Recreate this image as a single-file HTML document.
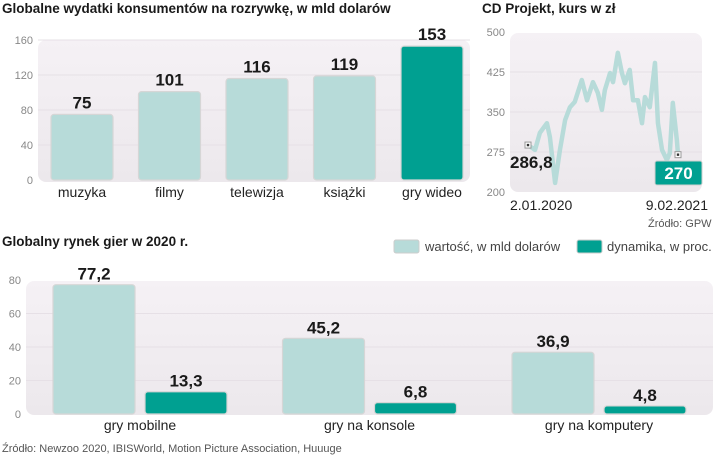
<!DOCTYPE html>
<html><head><meta charset="utf-8">
<style>
body{margin:0;background:#fff;width:720px;height:455px;overflow:hidden}
svg{display:block}
text{font-family:"Liberation Sans Narrow","Liberation Sans",sans-serif}
.t{font-weight:bold;font-size:13.5px;fill:#1a1a1a}
.tick{font-size:11px;fill:#888}
.cat{font-size:14px;fill:#222}
.val{font-weight:bold;font-size:17px;fill:#1a1a1a}
.src{font-size:11px;fill:#555}
</style></head><body>
<svg id="s" width="720" height="455">
<defs>
<linearGradient id="bg" x1="0" y1="0" x2="0" y2="1"><stop offset="0" stop-color="#f5f1f5"/><stop offset="1" stop-color="#ece8ec"/></linearGradient>
</defs>
<text class="t" x="2" y="13">Globalne wydatki konsumentów na rozrywkę, w  mld dolarów</text>
<text class="t" x="482" y="13">CD Projekt, kurs w zł</text>
<text class="t" x="2" y="246">Globalny rynek gier w 2020 r.</text>
<g>
<rect x="394" y="240" width="25" height="13" rx="2" fill="#b7dbd9" stroke="#ccc"/>
<text x="425" y="251" font-size="13" fill="#444">wartość, w mld dolarów</text>
<rect x="577" y="240" width="25" height="13" rx="2" fill="#00a091" stroke="#ccc"/>
<text x="607" y="251" font-size="13" fill="#444">dynamika, w proc.</text>
</g>
<text class="src" x="648" y="227">Źródło: GPW</text>
<text class="src" x="2" y="452">Źródło: Newzoo 2020, IBISWorld, Motion Picture Association, Huuuge</text>
<g id="c1"></g><g id="c2"></g><g id="c3"></g>
</svg>
<script>
const spendCats=["muzyka","filmy","telewizja","książki","gry wideo"];
const spendVals=[75,101,116,119,153];
const spendLabels=["75","101","116","119","153"];
const spendTicks=[0,40,80,120,160];
const gameCats=["gry mobilne","gry na konsole","gry na komputery"];
const gameValue=[77.2,45.2,36.9];
const gameDyn=[13.3,6.8,4.8];
const gameTicks=[0,20,40,60,80];
const cdpDays=[0,19,32,51,59,73,86,100,113,126,145,159,175,188,199,207,221,229,242,253,261,274,283,296,307,315,328,342,350,361,374,382,390,401,404];
const cdpPrice=[288,279,311,329,303,217,279,335,359,369,410,372,406,386,354,391,423,406,461,423,404,429,372,372,329,378,359,442,329,279,260,273,367,297,270];
const cdpTicks=[200,275,350,425,500];
const NS="http://www.w3.org/2000/svg";
function mk(p,t,a,txt){const e=document.createElementNS(NS,t);for(const k in a)e.setAttribute(k,a[k]);if(txt!==undefined)e.textContent=txt;p.appendChild(e);return e;}
const fmt=v=>String(v).replace('.',',');
const c1=document.getElementById('c1');
const y1=v=>180-v*140/160;
let e=mk(c1,'rect',{x:38,y:40,width:432,height:142,rx:8,fill:'url(#bg)'});

spendTicks.forEach(t=>{
 if(t>0){e=mk(c1,'line',{x1:38,x2:470,y1:y1(t),y2:y1(t),stroke:'#e6e0e6'});}
 e=mk(c1,'text',{x:33,y:y1(t)+4,'text-anchor':'end',class:'tick'},t);
 
});
spendVals.forEach((v,i)=>{
 const cx=82+i*87.5;
 e=mk(c1,'rect',{x:cx-31,y:y1(v),width:62,height:180-y1(v),rx:3,fill:i==4?'#00a091':'#b7dbd9',stroke:'#d6d6d6','stroke-width':1.2});
 
 e=mk(c1,'text',{x:cx,y:y1(v)-6,'text-anchor':'middle',class:'val'},spendLabels[i]);
 
 e=mk(c1,'text',{x:cx,y:197,'text-anchor':'middle',class:'cat'},spendCats[i]);
 
});
const c2=document.getElementById('c2');
const y2=v=>192-(v-200)*160/300;
const x2=d=>528+d*150/404;
e=mk(c2,'rect',{x:510,y:33,width:192,height:159,rx:8,fill:'url(#bg)'});

cdpTicks.forEach(t=>{
 if(t>200&&t<500){e=mk(c2,'line',{x1:510,x2:702,y1:y2(t),y2:y2(t),stroke:'#e6e0e6'});}
 e=mk(c2,'text',{x:505,y:y2(t)+4,'text-anchor':'end',class:'tick'},t);
 
});
e=mk(c2,'polyline',{points:cdpPrice.map((v,i)=>x2(cdpDays[i])+','+y2(v)).join(' '),fill:'none',stroke:'#b7dbd9','stroke-width':4.5,'stroke-linejoin':'round'});

const f0=cdpPrice[0],fl=cdpPrice[cdpPrice.length-1],dl=cdpDays[cdpDays.length-1];
e=mk(c2,'rect',{x:x2(0)-3,y:y2(f0)-3,width:6,height:6,fill:'#fff',stroke:'#999'});
mk(c2,'rect',{x:x2(0)-1.2,y:y2(f0)-1.2,width:2.4,height:2.4,fill:'#333'});
e=mk(c2,'rect',{x:x2(dl)-3,y:y2(fl)-3,width:6,height:6,fill:'#fff',stroke:'#999'});
mk(c2,'rect',{x:x2(dl)-1.2,y:y2(fl)-1.2,width:2.4,height:2.4,fill:'#333'});
e=mk(c2,'text',{x:510,y:168,class:'val'},'286,8');
e=mk(c2,'rect',{x:655,y:161,width:47,height:24,rx:2,fill:'#00a091',stroke:'#cfcfcf'});
e=mk(c2,'text',{x:678.5,y:179,'text-anchor':'middle',class:'val',style:'fill:#fff'},'270');
e=mk(c2,'text',{x:510,y:210,class:'cat'},'2.01.2020');
e=mk(c2,'text',{x:708,y:210,'text-anchor':'end',class:'cat'},'9.02.2021');
const c3=document.getElementById('c3');
const y3=v=>414-v*134/80;
e=mk(c3,'rect',{x:26,y:281,width:687,height:134,rx:8,fill:'url(#bg)'});

gameTicks.forEach(t=>{
 if(t>0&&t<80){e=mk(c3,'line',{x1:26,x2:713,y1:y3(t),y2:y3(t),stroke:'#e6e0e6'});}
 e=mk(c3,'text',{x:21,y:y3(t)+4,'text-anchor':'end',class:'tick'},t);
 
});
gameCats.forEach((c,i)=>{
 const gx=140+i*229.5;
 [[gameValue[i],'#b7dbd9',-87,'value'],[gameDyn[i],'#00a091',5,'dynamics']].forEach(([v,col,off,nm])=>{
  e=mk(c3,'rect',{x:gx+off,y:y3(v),width:82,height:414-y3(v),rx:3,fill:col,stroke:'#d6d6d6','stroke-width':1.2});
  
  e=mk(c3,'text',{x:gx+off+41,y:y3(v)-5,'text-anchor':'middle',class:'val'},fmt(v));
  
 });
 e=mk(c3,'text',{x:gx,y:430,'text-anchor':'middle',class:'cat'},c);
 
});
</script>
</body></html>
